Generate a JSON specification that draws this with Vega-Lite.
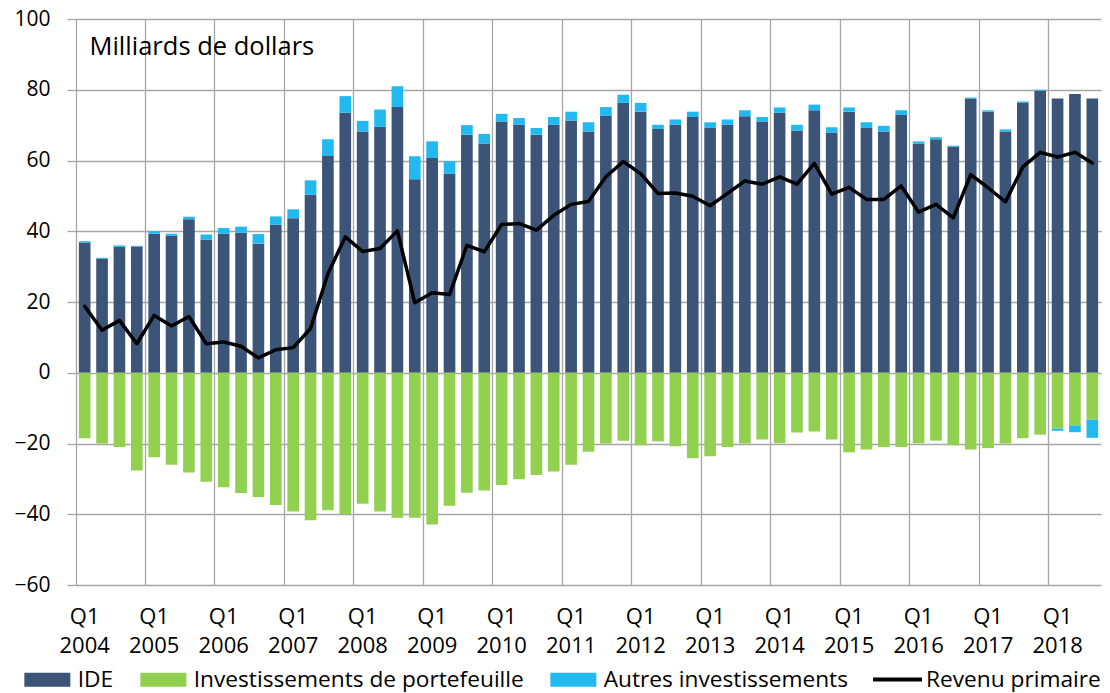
{
  "$schema": "https://vega.github.io/schema/vega-lite/v6.json",
  "width": 1025,
  "height": 566,
  "autosize": {"type": "none"},
  "padding": {"left": 76, "top": 19, "right": 9, "bottom": 108},
  "background": "white",
  "config": {
    "view": {"stroke": null},
    "font": "Open Sans"
  },
  "data": {
    "values": [
      {"q": "Q1 2004", "IDE": 36.8, "Investissements de portefeuille": -18.5, "Autres investissements": 0.4, "Revenu primaire": 18.8},
      {"q": "Q2 2004", "IDE": 32.2, "Investissements de portefeuille": -20.0, "Autres investissements": 0.3, "Revenu primaire": 12.0},
      {"q": "Q3 2004", "IDE": 35.6, "Investissements de portefeuille": -21.0, "Autres investissements": 0.4, "Revenu primaire": 14.8},
      {"q": "Q4 2004", "IDE": 35.6, "Investissements de portefeuille": -27.6, "Autres investissements": 0.3, "Revenu primaire": 8.2},
      {"q": "Q1 2005", "IDE": 39.3, "Investissements de portefeuille": -23.9, "Autres investissements": 0.7, "Revenu primaire": 16.2},
      {"q": "Q2 2005", "IDE": 38.7, "Investissements de portefeuille": -26.0, "Autres investissements": 0.6, "Revenu primaire": 13.2},
      {"q": "Q3 2005", "IDE": 43.4, "Investissements de portefeuille": -28.2, "Autres investissements": 0.7, "Revenu primaire": 15.9},
      {"q": "Q4 2005", "IDE": 37.7, "Investissements de portefeuille": -30.8, "Autres investissements": 1.4, "Revenu primaire": 8.2},
      {"q": "Q1 2006", "IDE": 39.3, "Investissements de portefeuille": -32.4, "Autres investissements": 1.6, "Revenu primaire": 8.7},
      {"q": "Q2 2006", "IDE": 39.6, "Investissements de portefeuille": -34.0, "Autres investissements": 1.7, "Revenu primaire": 7.5},
      {"q": "Q3 2006", "IDE": 36.5, "Investissements de portefeuille": -35.1, "Autres investissements": 2.7, "Revenu primaire": 4.2},
      {"q": "Q4 2006", "IDE": 41.8, "Investissements de portefeuille": -37.4, "Autres investissements": 2.4, "Revenu primaire": 6.5},
      {"q": "Q1 2007", "IDE": 43.7, "Investissements de portefeuille": -39.2, "Autres investissements": 2.5, "Revenu primaire": 7.1},
      {"q": "Q2 2007", "IDE": 50.3, "Investissements de portefeuille": -41.7, "Autres investissements": 4.1, "Revenu primaire": 12.5},
      {"q": "Q3 2007", "IDE": 61.3, "Investissements de portefeuille": -38.9, "Autres investissements": 4.7, "Revenu primaire": 28.0},
      {"q": "Q4 2007", "IDE": 73.5, "Investissements de portefeuille": -39.9, "Autres investissements": 4.7, "Revenu primaire": 38.4},
      {"q": "Q1 2008", "IDE": 68.2, "Investissements de portefeuille": -37.0, "Autres investissements": 3.0, "Revenu primaire": 34.3},
      {"q": "Q2 2008", "IDE": 69.5, "Investissements de portefeuille": -39.2, "Autres investissements": 4.9, "Revenu primaire": 35.1},
      {"q": "Q3 2008", "IDE": 75.1, "Investissements de portefeuille": -41.0, "Autres investissements": 5.9, "Revenu primaire": 40.1},
      {"q": "Q4 2008", "IDE": 54.7, "Investissements de portefeuille": -41.0, "Autres investissements": 6.5, "Revenu primaire": 19.8},
      {"q": "Q1 2009", "IDE": 60.7, "Investissements de portefeuille": -42.9, "Autres investissements": 4.7, "Revenu primaire": 22.6},
      {"q": "Q2 2009", "IDE": 56.3, "Investissements de portefeuille": -37.6, "Autres investissements": 3.5, "Revenu primaire": 22.1},
      {"q": "Q3 2009", "IDE": 67.3, "Investissements de portefeuille": -33.9, "Autres investissements": 2.7, "Revenu primaire": 36.0},
      {"q": "Q4 2009", "IDE": 64.8, "Investissements de portefeuille": -33.3, "Autres investissements": 2.7, "Revenu primaire": 34.2},
      {"q": "Q1 2010", "IDE": 71.0, "Investissements de portefeuille": -31.7, "Autres investissements": 2.2, "Revenu primaire": 41.9},
      {"q": "Q2 2010", "IDE": 70.1, "Investissements de portefeuille": -30.1, "Autres investissements": 1.9, "Revenu primaire": 42.2},
      {"q": "Q3 2010", "IDE": 67.3, "Investissements de portefeuille": -28.9, "Autres investissements": 1.9, "Revenu primaire": 40.3},
      {"q": "Q4 2010", "IDE": 70.1, "Investissements de portefeuille": -27.9, "Autres investissements": 2.2, "Revenu primaire": 44.5},
      {"q": "Q1 2011", "IDE": 71.3, "Investissements de portefeuille": -26.0, "Autres investissements": 2.5, "Revenu primaire": 47.6},
      {"q": "Q2 2011", "IDE": 68.2, "Investissements de portefeuille": -22.3, "Autres investissements": 2.6, "Revenu primaire": 48.4},
      {"q": "Q3 2011", "IDE": 72.6, "Investissements de portefeuille": -20.0, "Autres investissements": 2.5, "Revenu primaire": 55.4},
      {"q": "Q4 2011", "IDE": 76.3, "Investissements de portefeuille": -19.2, "Autres investissements": 2.3, "Revenu primaire": 59.7},
      {"q": "Q1 2012", "IDE": 73.8, "Investissements de portefeuille": -20.5, "Autres investissements": 2.5, "Revenu primaire": 56.3},
      {"q": "Q2 2012", "IDE": 68.9, "Investissements de portefeuille": -19.4, "Autres investissements": 1.2, "Revenu primaire": 50.7},
      {"q": "Q3 2012", "IDE": 70.1, "Investissements de portefeuille": -20.8, "Autres investissements": 1.5, "Revenu primaire": 50.8},
      {"q": "Q4 2012", "IDE": 72.3, "Investissements de portefeuille": -24.2, "Autres investissements": 1.5, "Revenu primaire": 49.9},
      {"q": "Q1 2013", "IDE": 69.2, "Investissements de portefeuille": -23.6, "Autres investissements": 1.6, "Revenu primaire": 47.2},
      {"q": "Q2 2013", "IDE": 70.1, "Investissements de portefeuille": -21.0, "Autres investissements": 1.5, "Revenu primaire": 50.7},
      {"q": "Q3 2013", "IDE": 72.5, "Investissements de portefeuille": -20.0, "Autres investissements": 1.7, "Revenu primaire": 54.2},
      {"q": "Q4 2013", "IDE": 71.0, "Investissements de portefeuille": -18.9, "Autres investissements": 1.3, "Revenu primaire": 53.3},
      {"q": "Q1 2014", "IDE": 73.5, "Investissements de portefeuille": -19.9, "Autres investissements": 1.5, "Revenu primaire": 55.4},
      {"q": "Q2 2014", "IDE": 68.5, "Investissements de portefeuille": -16.9, "Autres investissements": 1.6, "Revenu primaire": 53.3},
      {"q": "Q3 2014", "IDE": 74.2, "Investissements de portefeuille": -16.6, "Autres investissements": 1.6, "Revenu primaire": 59.2},
      {"q": "Q4 2014", "IDE": 67.9, "Investissements de portefeuille": -18.9, "Autres investissements": 1.5, "Revenu primaire": 50.5},
      {"q": "Q1 2015", "IDE": 73.8, "Investissements de portefeuille": -22.5, "Autres investissements": 1.2, "Revenu primaire": 52.4},
      {"q": "Q2 2015", "IDE": 69.2, "Investissements de portefeuille": -21.7, "Autres investissements": 1.6, "Revenu primaire": 49.0},
      {"q": "Q3 2015", "IDE": 68.2, "Investissements de portefeuille": -21.0, "Autres investissements": 1.6, "Revenu primaire": 49.0},
      {"q": "Q4 2015", "IDE": 72.9, "Investissements de portefeuille": -21.0, "Autres investissements": 1.3, "Revenu primaire": 52.8},
      {"q": "Q1 2016", "IDE": 64.8, "Investissements de portefeuille": -19.9, "Autres investissements": 0.6, "Revenu primaire": 45.4},
      {"q": "Q2 2016", "IDE": 66.0, "Investissements de portefeuille": -19.2, "Autres investissements": 0.6, "Revenu primaire": 47.6},
      {"q": "Q3 2016", "IDE": 63.9, "Investissements de portefeuille": -20.5, "Autres investissements": 0.3, "Revenu primaire": 43.8},
      {"q": "Q4 2016", "IDE": 77.5, "Investissements de portefeuille": -21.7, "Autres investissements": 0.3, "Revenu primaire": 56.0},
      {"q": "Q1 2017", "IDE": 73.8, "Investissements de portefeuille": -21.3, "Autres investissements": 0.4, "Revenu primaire": 52.3},
      {"q": "Q2 2017", "IDE": 68.2, "Investissements de portefeuille": -20.0, "Autres investissements": 0.6, "Revenu primaire": 48.3},
      {"q": "Q3 2017", "IDE": 76.3, "Investissements de portefeuille": -18.5, "Autres investissements": 0.4, "Revenu primaire": 58.2},
      {"q": "Q4 2017", "IDE": 79.7, "Investissements de portefeuille": -17.5, "Autres investissements": 0.3, "Revenu primaire": 62.3},
      {"q": "Q1 2018", "IDE": 77.5, "Investissements de portefeuille": -15.8, "Autres investissements": -0.6, "Revenu primaire": 61.0},
      {"q": "Q2 2018", "IDE": 78.8, "Investissements de portefeuille": -14.9, "Autres investissements": -1.9, "Revenu primaire": 62.3},
      {"q": "Q3 2018", "IDE": 77.5, "Investissements de portefeuille": -13.3, "Autres investissements": -5.1, "Revenu primaire": 59.3}
    ]
  },
  "encoding": {
    "x": {
      "field": "q",
      "type": "nominal",
      "sort": null,
      "scale": {"paddingInner": 0, "paddingOuter": 0},
      "axis": {
        "title": null,
        "domain": false,
        "ticks": false,
        "tickSize": 0,
        "bandPosition": 0,
        "grid": true,
        "gridColor": "#A6A6A6",
        "gridWidth": 1.3,
        "gridOpacity": {"condition": {"test": "indexof(datum.value, 'Q1') === 0", "value": 1}, "value": 0},
        "labelExpr": "indexof(datum.value, 'Q1') === 0 ? ['Q1', substring(datum.value, 3)] : ''",
        "labelAngle": 0,
        "labelAlign": "center",
        "labelBaseline": "top",
        "labelOverlap": false,
        "labelBound": false,
        "labelFlush": false,
        "labelPadding": 21.6,
        "labelLineHeight": 29,
        "labelFont": "Open Sans",
        "labelFontSize": 22,
        "labelColor": "#000000"
      }
    }
  },
  "layer": [
    {
      "transform": [{"fold": ["IDE", "Investissements de portefeuille", "Autres investissements"], "as": ["serie", "valeur"]}],
      "mark": {"type": "bar", "width": {"band": 0.67}},
      "encoding": {
        "y": {
          "field": "valeur",
          "type": "quantitative",
          "stack": "zero",
          "title": "Milliards de dollars",
          "scale": {"domain": [-60, 100], "nice": false},
          "axis": {
            "values": [-60, -40, -20, 0, 20, 40, 60, 80, 100],
            "domain": false,
            "grid": true,
            "gridColor": "#A6A6A6",
            "gridWidth": 1.3,
            "ticks": true,
            "tickSize": 9,
            "tickColor": "#A6A6A6",
            "tickWidth": 1.3,
            "labelFont": "Open Sans",
            "labelFontSize": 21,
            "labelColor": "#000000",
            "labelPadding": 17,
            "titleAngle": 0,
            "titleAlign": "left",
            "titleBaseline": "alphabetic",
            "titleX": 13,
            "titleY": 35.5,
            "titleFont": "Open Sans",
            "titleFontSize": 25.5,
            "titleFontWeight": "normal",
            "titleColor": "#000000"
          }
        },
        "color": {
          "field": "serie",
          "type": "nominal",
          "scale": {"domain": ["IDE", "Investissements de portefeuille", "Autres investissements"], "range": ["#3B5477", "#92D050", "#22B8F0"]},
          "legend": {
            "orient": "none",
            "legendX": -40,
            "legendY": 649,
            "direction": "horizontal",
            "columns": 3,
            "columnPadding": 26,
            "title": null,
            "padding": 0,
            "symbolType": "M-3.286,-1H3.286V1H-3.286Z",
            "symbolSize": 196,
            "symbolStrokeWidth": 0,
            "symbolOpacity": 1,
            "labelOffset": 19,
            "labelFont": "Open Sans",
            "labelFontSize": 22.7,
            "labelColor": "#000000",
            "labelLimit": 600
          }
        },
        "order": {"field": "serie", "sort": "descending"}
      }
    },
    {
      "mark": {"type": "line", "strokeWidth": 3.5, "strokeJoin": "round", "strokeCap": "round"},
      "encoding": {
        "y": {"field": "Revenu primaire", "type": "quantitative", "title": "Milliards de dollars"},
        "stroke": {
          "datum": "Revenu primaire",
          "scale": {"range": ["#000000"]},
          "legend": {
            "orient": "none",
            "legendX": 807,
            "legendY": 646,
            "title": null,
            "padding": 0,
            "symbolType": "M-2,0H2",
            "symbolSize": 600,
            "symbolStrokeWidth": 4,
            "labelOffset": 14,
            "labelFont": "Open Sans",
            "labelFontSize": 22.7,
            "labelColor": "#000000",
            "labelLimit": 600
          }
        }
      }
    }
  ]
}
